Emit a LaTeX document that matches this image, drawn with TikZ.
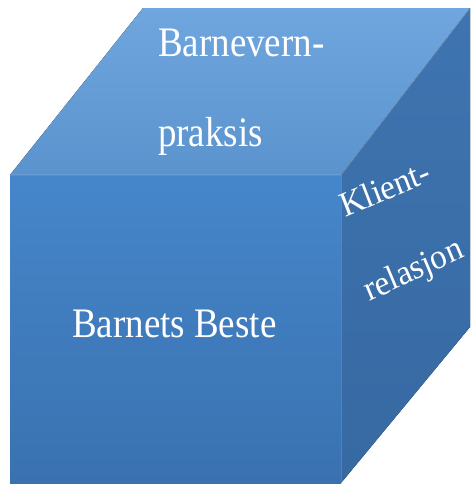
\documentclass[tikz,border=0pt]{standalone}
\usepackage{fontspec}
\setmainfont{Liberation Serif}
\begin{document}
\begin{tikzpicture}[x=1pt,y=-1pt]
  \definecolor{topA}{HTML}{6FA6DE}
  \definecolor{topB}{HTML}{5B93CE}
  \definecolor{frontA}{HTML}{4586CA}
  \definecolor{frontB}{HTML}{3A72B0}
  \definecolor{sideA}{HTML}{3E74B0}
  \definecolor{sideB}{HTML}{3769A2}
  \tikzset{
    label/.style={text=white, inner sep=0pt, font=\fontsize{42}{46}\selectfont, xscale=0.88},
    sidelabel/.style={text=white, inner sep=0pt, font=\fontsize{35}{38}\selectfont, xscale=0.95}
  }
  \useasboundingbox (0,0) rectangle (473,490);
  % cube corners
  \coordinate (A) at (10,175);
  \coordinate (B) at (341,175);
  \coordinate (C) at (341,483);
  \coordinate (D) at (10,483);
  \coordinate (E) at (143,8);
  \coordinate (F) at (470,8);
  \coordinate (G) at (470,327);
  % faces
  \fill[top color=topA, bottom color=topB] (A) -- (E) -- (F) -- (B) -- cycle;
  \fill[top color=sideA, bottom color=sideB] (B) -- (F) -- (G) -- (C) -- cycle;
  \fill[top color=frontA, bottom color=frontB] (A) -- (B) -- (C) -- (D) -- cycle;
  % soft edge highlights
  \draw[white, opacity=0.25, line width=0.8pt] (A) -- (B) -- (F);
  \draw[white, opacity=0.15, line width=0.8pt] (B) -- (C);
  % top face text
  \node[label, anchor=base west] (t1) at (158,56) {Barnevern-};
  \node[label, anchor=base west] (t2) at (158,146) {praksis};
  % front face text
  \node[label, anchor=base west] (t3) at (72,337) {Barnets Beste};
  % side face text
  \node[sidelabel, anchor=base west, rotate=22] (t4) at (345,218) {Klient-};
  \node[sidelabel, anchor=base west, rotate=24] (t5) at (369,302) {relasjon};
\end{tikzpicture}
\end{document}
